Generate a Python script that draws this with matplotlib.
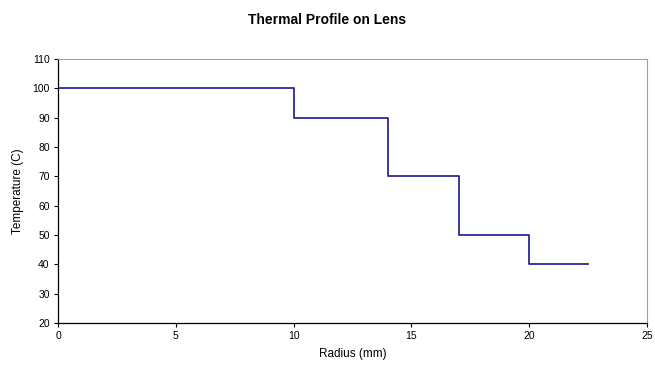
import matplotlib
matplotlib.use("Agg")
import matplotlib.pyplot as plt

radius = [0, 10, 14, 17, 20, 22.5]
temperature = [100, 90, 70, 50, 40, 40]
x_ticks = [0, 5, 10, 15, 20, 25]
y_ticks = [20, 30, 40, 50, 60, 70, 80, 90, 100, 110]

plt.rcParams['font.family'] = ['Liberation Sans', 'DejaVu Sans']
fig = plt.figure(figsize=(6.55, 3.67), dpi=100)
ax = fig.add_axes([58/655, 1-323/367, (647-58)/655, (323-59)/367])
ax.plot(radius, temperature, drawstyle='steps-post', color='#2a2a96', lw=1.3)
ax.set_xlim(0, 25)
ax.set_ylim(20, 110)
ax.set_xticks(x_ticks)
ax.set_yticks(y_ticks)
ax.tick_params(labelsize=7.5, length=3, width=0.8, direction='out', pad=3)
for s in ['top', 'right']:
    ax.spines[s].set_color('#a0a0a0')
for s in ['left', 'bottom']:
    ax.spines[s].set_color('black')
    ax.spines[s].set_linewidth(0.9)
ax.set_xlabel('Radius (mm)', fontsize=8.5, labelpad=5)
ax.set_ylabel('Temperature (C)', fontsize=8.5, labelpad=6)
fig.text(0.5, 1-20/367, 'Thermal Profile on Lens', ha='center', va='center', fontsize=10, fontweight='bold')
fig.savefig('out.png', dpi=100)
